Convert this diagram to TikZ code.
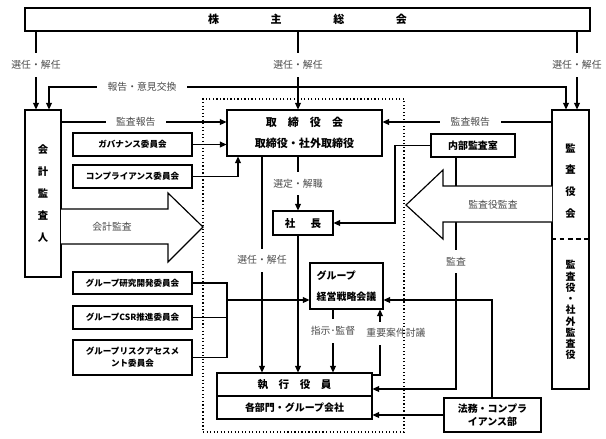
\documentclass[tikz,border=0pt]{standalone}
\usepackage{fontspec}
\setmainfont{Noto Sans CJK JP}
\usetikzlibrary{arrows.meta}
\begin{document}
\begin{tikzpicture}[x=0.03cm,y=-0.03cm,line width=1pt,
  box/.style={draw,inner sep=0pt,align=center,font=\fontsize{8.5}{11}\selectfont\bfseries},
  iinkai/.style={box,minimum width=3.57cm,minimum height=0.69cm,font=\fontsize{7.3}{10}\selectfont\bfseries},
  lbl/.style={fill=white,text=black!70,font=\fontsize{8.4}{10}\selectfont},
  hlbl/.style={lbl,inner xsep=9pt,inner ysep=1pt},
  vlbl/.style={lbl,inner xsep=1pt,inner ysep=6pt},
  arr/.style={-{Triangle[length=5.5pt,width=5pt]}},
  arrs/.style={{Triangle[length=5.5pt,width=5pt]}-{Triangle[length=5.5pt,width=5pt]}}]
\useasboundingbox (0,0) rectangle (606,438);
\node[box,minimum width=16.95cm,minimum height=0.69cm,font=\fontsize{9.4}{11}\selectfont\bfseries] (soukai) at (307.5,19.5) {株\hspace{44pt}主\hspace{44pt}総\hspace{44pt}会};
\node[box,minimum width=1.08cm,minimum height=5.01cm,font=\fontsize{8.8}{18.7}\selectfont\bfseries] (kaikei) at (43,193.5) {会\\計\\監\\査\\人};
\node[box,minimum width=1.11cm,minimum height=8.37cm] (kansayaku) at (570.5,249.5) {};
\draw[dash pattern=on 4pt off 3pt] (kansayaku.west |- 0,239) -- (kansayaku.east |- 0,239);
\node[font=\fontsize{8.8}{18.7}\selectfont\bfseries,align=center] (kansayakukai) at (570.5,181) {監\\査\\役\\会};
\node[font=\fontsize{8.5}{9.6}\selectfont\bfseries,align=center] (kansayakuin) at (570.5,310) {監\\査\\役\\・\\社\\外\\監\\査\\役};
\node[box,minimum width=4.65cm,minimum height=1.38cm,font=\fontsize{9.4}{18}\selectfont\bfseries] (torishimari) at (304.5,133) {取\quad 締\quad 役\quad 会\\取締役・社外取締役};
\node[iinkai] (gov) at (132.5,144.5) {ガバナンス委員会};
\node[iinkai] (comp) at (132.5,176.5) {コンプライアンス委員会};
\node[box,minimum width=2.52cm,minimum height=0.69cm] (naibu) at (473,145.5) {内部監査室};
\node[box,minimum width=1.8cm,minimum height=0.72cm,font=\fontsize{9}{11}\selectfont\bfseries] (shacho) at (303,223) {社\hspace{13pt}長};
\node[box,minimum width=2.19cm,minimum height=1.38cm,align=left,font=\fontsize{8.5}{18}\selectfont\bfseries] (group) at (346.5,286) {グループ\\経営戦略会議};
\node[iinkai,minimum height=0.66cm] (kenkyu) at (132.5,283) {グループ研究開発委員会};
\node[iinkai] (csr) at (132.5,317.5) {グループCSR推進委員会};
\node[iinkai,minimum height=1.05cm] (risk) at (132.5,357.5) {グループリスクアセスメ\\ント委員会};
\node[box,minimum width=4.65cm,minimum height=1.38cm] (shikko) at (294.5,396) {};
\draw (shikko.west) -- (shikko.east);
\node[font=\fontsize{9}{11}\selectfont\bfseries] (shikkoyakuin) at (294.5,385) {執\quad 行\quad 役\quad 員};
\node[font=\fontsize{8.5}{11}\selectfont\bfseries] (kakubumon) at (294.5,408) {各部門・グループ会社};
\node[box,minimum width=2.91cm,minimum height=1.02cm,font=\fontsize{8.5}{10.7}\selectfont\bfseries] (houmu) at (492.5,415) {法務・コンプラ\\イアンス部};
\draw[arr] (soukai.south -| 36,0) -- node[vlbl,pos=0.43] {選任・解任} (kaikei.north -| 36,0);
\draw[arr] (soukai.south -| 298,0) -- node[vlbl,pos=0.43] {選任・解任} (torishimari.north -| 298,0);
\draw[arr] (soukai.south -| 577,0) -- node[vlbl,pos=0.43] {選任・解任} (kansayaku.north -| 577,0);
\draw[arrs] (kaikei.north -| 49,0) -- (49,87) -- node[hlbl,pos=0.18] {報告・意見交換} (566,87) -- (kansayaku.north -| 566,0);
\draw[arr] (kaikei.east |- 0,122) -- node[hlbl,pos=0.45] {監査報告} (torishimari.west |- 0,122);
\draw[arr] (kansayaku.west |- 0,122) -- node[hlbl,pos=0.48] {監査報告} (torishimari.east |- 0,122);
\draw[arr] (gov.east) -- (gov.east -| torishimari.west);
\draw[arr] (comp.east) -| (torishimari.south -| 238,0);
\draw[arr] (naibu.west) -- (naibu.west -| 395,0) |- (shacho.east);
\draw[arr] (naibu.south -| 456,0) |- node[vlbl,pos=0.225] {監査} (shikko.east |- 0,389);
\draw[arr] (torishimari.south -| 262,0) -- node[vlbl,pos=0.48] {選任・解任} (shikko.north -| 262,0);
\draw[arr] (torishimari.south -| 298,0) -- node[vlbl] {選定・解職} (shacho.north -| 298,0);
\draw[arr] (shacho.south -| 298,0) -- (shikko.north -| 298,0);
\draw (kenkyu.east) -| (risk.east -| 227,0) -- (risk.east);
\draw (csr.east) -- (csr.east -| 227,0);
\draw[arr] (227,300) -- (group.west |- 0,300);
\draw[arr] (group.south -| 333,0) -- node[vlbl,pos=0.34] {指示･監督} (shikko.north -| 333,0);
\draw[arr] (shikko.east |- 0,375) -| node[vlbl,pos=0.82,xshift=4.8mm] {重要案件討議} (group.south -| 380,0);
\draw[arr] (houmu.west) -- (shikko.east |- houmu.west);
\draw[arr] (houmu.north -| 492,0) |- (group.east |- 0,300);
\draw[fill=white] (61,209) -- (168,209) -- (168,193) -- (203,227) -- (168,262) -- (168,244) -- (61,244);
\node[lbl] (kaikeikansa) at (112,227) {会計監査};
\draw[fill=white] (552,186) -- (443,186) -- (443,170) -- (406,205) -- (443,239) -- (443,222) -- (552,222);
\node[lbl] (kansayakukansa) at (493,205) {監査役監査};
\node[draw,dotted,line width=1pt,minimum width=6.03cm,minimum height=9.99cm] (honsha) at (303.5,265.5) {};
\end{tikzpicture}
\end{document}
